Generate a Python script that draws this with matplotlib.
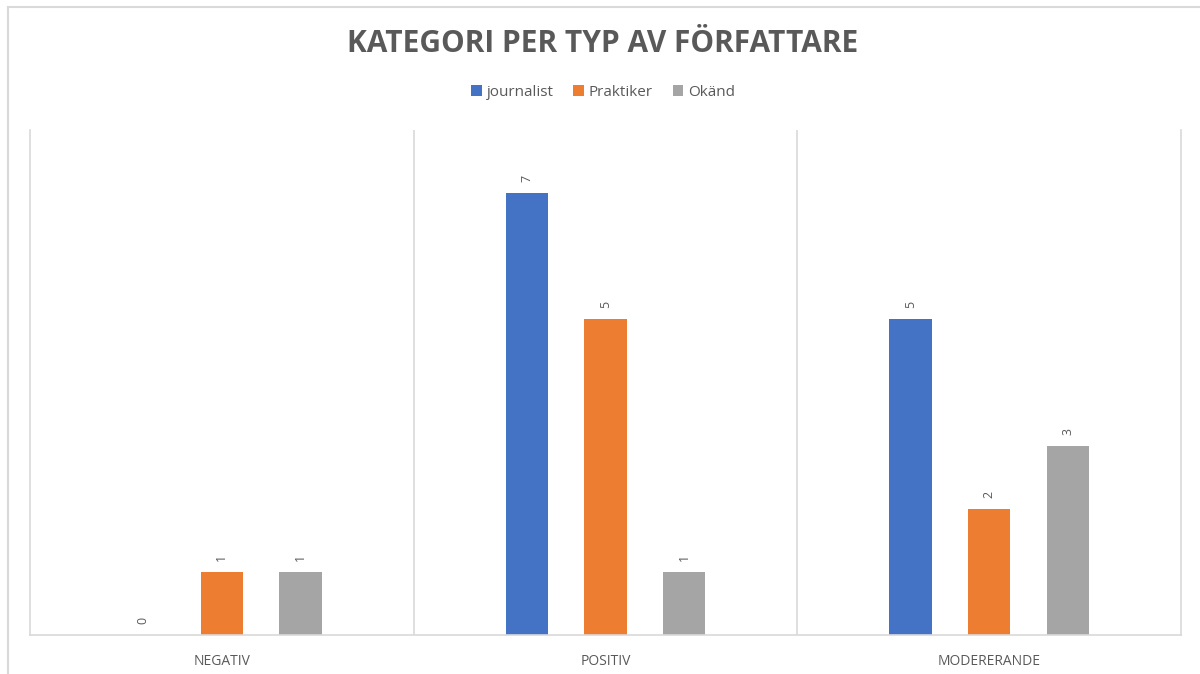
import matplotlib.pyplot as plt
import numpy as np
from matplotlib.lines import Line2D

categories = ['NEGATIV', 'POSITIV', 'MODERERANDE']
series = ['journalist', 'Praktiker', 'Okänd']
journalist = [0, 7, 5]
praktiker = [1, 5, 2]
okand = [1, 1, 3]

colors = ['#4472C4', '#ED7D31', '#A5A5A5']
text_col = '#595959'
grid_col = '#D9D9D9'

plt.rcParams['font.family'] = ['Open Sans', 'DejaVu Sans']

fig = plt.figure(figsize=(12, 6.74), dpi=100)
ax = fig.add_axes([0.025, 0.0579, 0.9592, 0.749])

x = np.arange(len(categories))
offsets = [-0.205, 0, 0.205]
width = 0.11

for vals, off, col, name in zip([journalist, praktiker, okand], offsets, colors, series):
    bars = ax.bar(x + off, vals, width, color=col, label=name)
    for b, v in zip(bars, vals):
        ax.annotate(str(v), (b.get_x() + b.get_width() / 2, v),
                    xytext=(0, 8), textcoords='offset points',
                    ha='center', va='bottom', rotation=90,
                    fontsize=9, color=text_col)

ax.set_xlim(-0.5, 2.5)
ax.set_ylim(0, 8)
ax.set_yticks([])
ax.set_xticks(x)
ax.set_xticklabels(categories, fontsize=10, color=text_col)
ax.tick_params(axis='x', length=0, pad=14)

for xb in [0.5, 1.5]:
    ax.axvline(xb, color=grid_col, lw=1.2)
for s in ['left', 'right', 'bottom']:
    ax.spines[s].set_color(grid_col)
    ax.spines[s].set_linewidth(1.2)
ax.spines['top'].set_visible(False)

fig.text(0.5025, 0.935, 'KATEGORI PER TYP AV FÖRFATTARE', ha='center', va='center',
         fontsize=21.5, fontweight='bold', color=text_col)

fig.legend(loc='center', bbox_to_anchor=(0.5025, 0.863), ncol=3, frameon=False,
           fontsize=11, labelcolor=text_col, handlelength=0.7, handleheight=0.7,
           handletextpad=0.3, columnspacing=1.3)

# image frame
fig.add_artist(Line2D([8 / 1200, 1], [1 - 7 / 674, 1 - 7 / 674], color=grid_col, lw=1.5))
fig.add_artist(Line2D([8 / 1200, 8 / 1200], [0, 1 - 7 / 674], color=grid_col, lw=1.5))

fig.savefig('out.png', dpi=100)
